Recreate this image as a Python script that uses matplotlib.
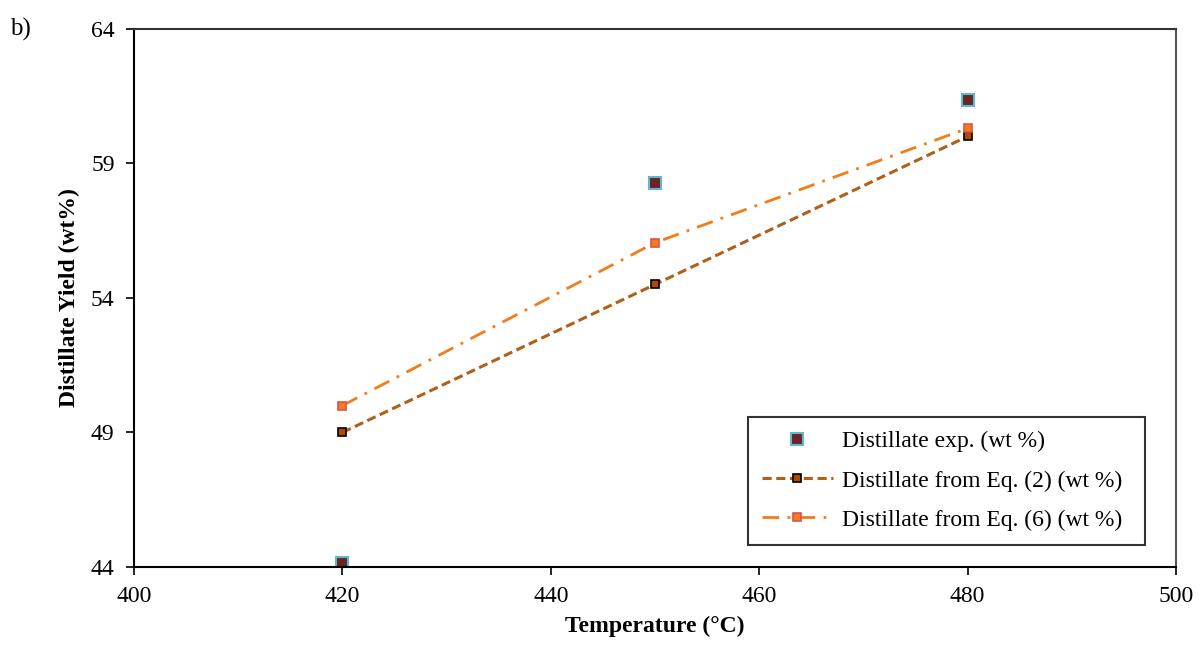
import matplotlib.pyplot as plt

plt.rcParams['font.family'] = ['Liberation Serif', 'DejaVu Serif']

# data
temperature = [420, 450, 480]
distillate_exp = [44.15, 58.25, 61.35]
distillate_eq2 = [49.0, 54.5, 60.0]
distillate_eq6 = [50.0, 56.05, 60.3]

x_ticks = [400, 420, 440, 460, 480, 500]
y_ticks = [44, 49, 54, 59, 64]

fig = plt.figure(figsize=(12.03, 6.46), dpi=100)
ax = fig.add_axes([0.1114, 0.1223, 0.8662, 0.8332])

ax.plot(temperature, distillate_exp, linestyle='none', marker='s', markersize=8,
        markerfacecolor='#6b2323', markeredgecolor='#5fb8d0', markeredgewidth=1.5,
        label='Distillate exp. (wt %)')
ax.plot(temperature, distillate_eq2, color='#b0601a', linestyle=(0, (3, 1.5)), linewidth=2.2,
        marker='s', markersize=6, markerfacecolor='#b04a00', markeredgecolor='black',
        markeredgewidth=1.2, label='Distillate from Eq. (2) (wt %)')
ax.plot(temperature, distillate_eq6, color='#f07d1a', linestyle=(0, (6, 3, 1, 3)), linewidth=2.0,
        marker='s', markersize=6, markerfacecolor='#f07d1a', markeredgecolor='#d9534f',
        markeredgewidth=1.2, label='Distillate from Eq. (6) (wt %)')

ax.set_xlim(400, 500)
ax.set_ylim(44, 64)
ax.set_xticks(x_ticks)
ax.set_yticks(y_ticks)
ax.tick_params(direction='out', length=6, width=1.2, labelsize=17, pad=8)
for s in ax.spines.values():
    s.set_linewidth(1.5)
ax.spines['right'].set_color('#555555')
ax.spines['top'].set_color('#333333')

ax.set_xlabel('Temperature (°C)', fontsize=17, fontweight='bold', labelpad=6)
ax.set_ylabel('Distillate Yield (wt%)', fontsize=17, fontweight='bold', labelpad=8)

leg = ax.legend(loc='lower left', bbox_to_anchor=(0.589, 0.041, 0.381, 0.243), mode='expand',
                borderaxespad=0, fontsize=17, frameon=True, fancybox=False, handlelength=3.0,
                handletextpad=0.4, labelspacing=0.75, borderpad=0.6)
leg.get_frame().set_edgecolor('black')
leg.get_frame().set_linewidth(1.5)

fig.text(0.008, 0.955, 'b)', fontsize=18, va='center')

fig.savefig('out.png', dpi=100)
